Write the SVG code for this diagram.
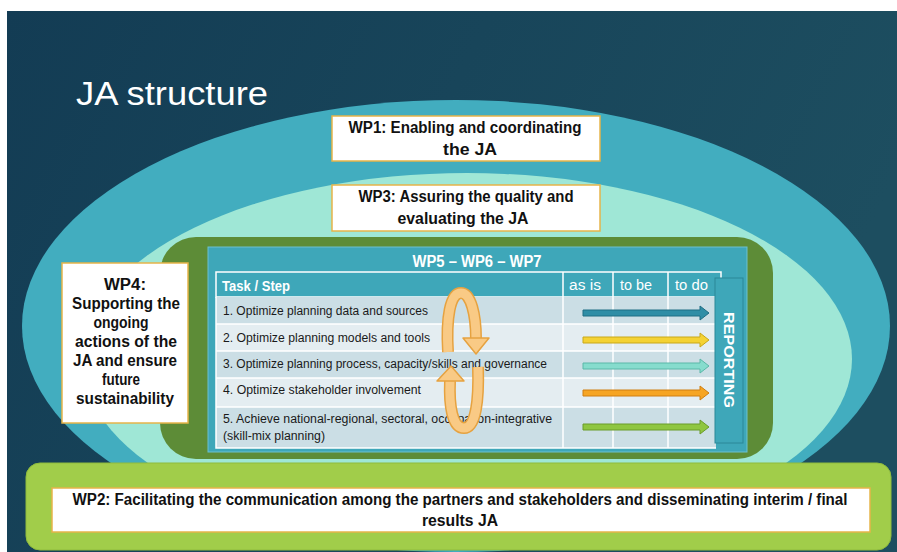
<svg xmlns="http://www.w3.org/2000/svg" width="897" height="552" viewBox="0 0 897 552">
<defs>
<linearGradient id="bg" x1="0" y1="0" x2="1" y2="0.3">
<stop offset="0" stop-color="#133c54"/>
<stop offset="1" stop-color="#1d4e60"/>
</linearGradient>
<path id="blk" d="M0,-3 H117 V-7 L126,0 L117,7 V3 H0 Z"/>
<style>
.wb{fill:#ffffff;stroke:#e6b44a;stroke-width:1.5}
.bt{font-family:"Liberation Sans",Arial,sans-serif;font-weight:bold;fill:#111;text-anchor:middle;font-size:16px}
.rt{font-family:"Liberation Sans",Arial,sans-serif;font-size:12px;fill:#1a1a1a}
.wt{font-family:"Liberation Sans",Arial,sans-serif;fill:#ffffff}
.grid{stroke:#ffffff;stroke-width:1.5;fill:none}
.ring{fill:none;stroke:#e6a240;stroke-width:12;stroke-linecap:butt}
.ringi{fill:none;stroke:#f9ca85;stroke-width:9;stroke-linecap:butt}
.head{fill:#f9ca85;stroke:#e6a240;stroke-width:1.5;stroke-linejoin:round}
</style>
</defs>
<rect x="0" y="0" width="897" height="552" fill="#ffffff"/>
<rect x="7" y="11" width="890" height="541" fill="url(#bg)"/>
<text class="wt" x="76" y="105" font-size="34" textLength="192" lengthAdjust="spacingAndGlyphs">JA structure</text>

<g id="rings">
<ellipse cx="456" cy="326" rx="434" ry="226" fill="#42adbf"/>
<ellipse cx="467" cy="359" rx="385" ry="186" fill="#9fe7d6"/>
</g>

<g id="wp1">
<rect class="wb" x="332" y="116" width="268" height="45"/>
<text class="bt" x="465" y="133" textLength="233" lengthAdjust="spacingAndGlyphs">WP1: Enabling and coordinating</text>
<text class="bt" x="470" y="155" textLength="54" lengthAdjust="spacingAndGlyphs">the JA</text>
</g>

<g id="wp3">
<rect class="wb" x="332" y="185" width="268" height="46"/>
<text class="bt" x="466" y="202" textLength="215" lengthAdjust="spacingAndGlyphs">WP3: Assuring the quality and</text>
<text class="bt" x="463" y="224" textLength="131" lengthAdjust="spacingAndGlyphs">evaluating the JA</text>
</g>

<g id="wp567">
<rect x="160" y="237" width="613" height="222" rx="36" fill="#5d8c37"/>
<rect x="208" y="247" width="539" height="205" fill="#3ea7b9" stroke="#6cc0cf" stroke-width="1"/>
<text class="wt" x="477" y="267" font-size="16" font-weight="bold" text-anchor="middle" textLength="129" lengthAdjust="spacingAndGlyphs">WP5 – WP6 – WP7</text>
<rect x="216" y="272" width="505" height="25" fill="#3ea7b9" stroke="#ffffff" stroke-width="1.5"/>
<rect x="216" y="297" width="500" height="27" fill="#cbdee5"/>
<rect x="216" y="324" width="500" height="27" fill="#e4edf1"/>
<rect x="216" y="351" width="500" height="27" fill="#cbdee5"/>
<rect x="216" y="378" width="500" height="29" fill="#e4edf1"/>
<rect x="216" y="407" width="500" height="41" fill="#cbdee5"/>
<path class="grid" d="M216,297 V448 H716 M216,324 H716 M216,351 H716 M216,378 H716 M216,407 H716 M563,272 V448 M613,272 V448 M668,272 V448"/>
<text class="wt" x="222" y="291" font-size="15" font-weight="bold" textLength="68" lengthAdjust="spacingAndGlyphs">Task / Step</text>
<text class="wt" x="569" y="290" font-size="14" textLength="32" lengthAdjust="spacingAndGlyphs">as is</text>
<text class="wt" x="620" y="290" font-size="14" textLength="32" lengthAdjust="spacingAndGlyphs">to be</text>
<text class="wt" x="675" y="290" font-size="14" textLength="33" lengthAdjust="spacingAndGlyphs">to do</text>
<text class="rt" x="223" y="315" textLength="205" lengthAdjust="spacingAndGlyphs">1. Optimize planning data and sources</text>
<text class="rt" x="223" y="342" textLength="207" lengthAdjust="spacingAndGlyphs">2. Optimize planning models and tools</text>
<text class="rt" x="223" y="368" textLength="324" lengthAdjust="spacingAndGlyphs">3. Optimize planning process, capacity/skills and governance</text>
<text class="rt" x="223" y="394" textLength="198" lengthAdjust="spacingAndGlyphs">4. Optimize stakeholder involvement</text>
<text class="rt" x="223" y="423" textLength="329" lengthAdjust="spacingAndGlyphs">5. Achieve national-regional, sectoral, occupation-integrative</text>
<text class="rt" x="223" y="440" textLength="102" lengthAdjust="spacingAndGlyphs">(skill-mix planning)</text>
</g>

<g id="reporting">
<rect x="715" y="278" width="28" height="165" fill="#3ea7b9" stroke="#2b8798" stroke-width="1"/>
<text class="wt" x="0" y="0" font-size="14" font-weight="bold" text-anchor="middle" textLength="96" lengthAdjust="spacingAndGlyphs" transform="translate(724,360) rotate(90)">REPORTING</text>
</g>

<g id="connectors">
<use href="#blk" x="583" y="313" fill="#2f8ea6" stroke="#1f6e84" stroke-width="1"/>
<use href="#blk" x="583" y="340" fill="#f4d234" stroke="#c9a818" stroke-width="1"/>
<use href="#blk" x="583" y="366" fill="#86dccd" stroke="#5ab8a8" stroke-width="1"/>
<use href="#blk" x="583" y="393" fill="#f6a524" stroke="#d07f10" stroke-width="1"/>
<use href="#blk" x="583" y="427" fill="#8fc641" stroke="#6a9c2b" stroke-width="1"/>
<path class="ring" d="M448,352 C446,318 450,293 461,293 C471,293 476,315 476,339"/>
<path class="ringi" d="M448,352 C446,318 450,293 461,293 C471,293 476,315 476,339"/>
<polygon class="head" points="463,338 489,338 476,354"/>
<path class="ring" d="M478,367 C479,400 476,428 464,428 C452,428 449,405 450,381"/>
<path class="ringi" d="M478,367 C479,400 476,428 464,428 C452,428 449,405 450,381"/>
<polygon class="head" points="437,381 464,381 451,366"/>
</g>

<g id="wp4">
<rect class="wb" x="62" y="263" width="126" height="160"/>
<text class="bt" x="125" y="290" textLength="42" lengthAdjust="spacingAndGlyphs">WP4:</text>
<text class="bt" x="126" y="309" textLength="108" lengthAdjust="spacingAndGlyphs">Supporting the</text>
<text class="bt" x="121" y="328" textLength="55" lengthAdjust="spacingAndGlyphs">ongoing</text>
<text class="bt" x="126" y="347" textLength="102" lengthAdjust="spacingAndGlyphs">actions of the</text>
<text class="bt" x="125" y="366" textLength="104" lengthAdjust="spacingAndGlyphs">JA and ensure</text>
<text class="bt" x="121" y="385" textLength="38" lengthAdjust="spacingAndGlyphs">future</text>
<text class="bt" x="125" y="404" textLength="98" lengthAdjust="spacingAndGlyphs">sustainability</text>
</g>

<g id="wp2">
<rect x="26" y="463" width="865" height="87" rx="14" fill="#a1cd4a" stroke="#8fbb3c" stroke-width="1"/>
<rect class="wb" x="52" y="488" width="818" height="44"/>
<text class="bt" x="460" y="505" textLength="775" lengthAdjust="spacingAndGlyphs">WP2: Facilitating the communication among the partners and stakeholders and disseminating interim / final</text>
<text class="bt" x="460" y="526" textLength="76" lengthAdjust="spacingAndGlyphs">results JA</text>
</g>
</svg>
